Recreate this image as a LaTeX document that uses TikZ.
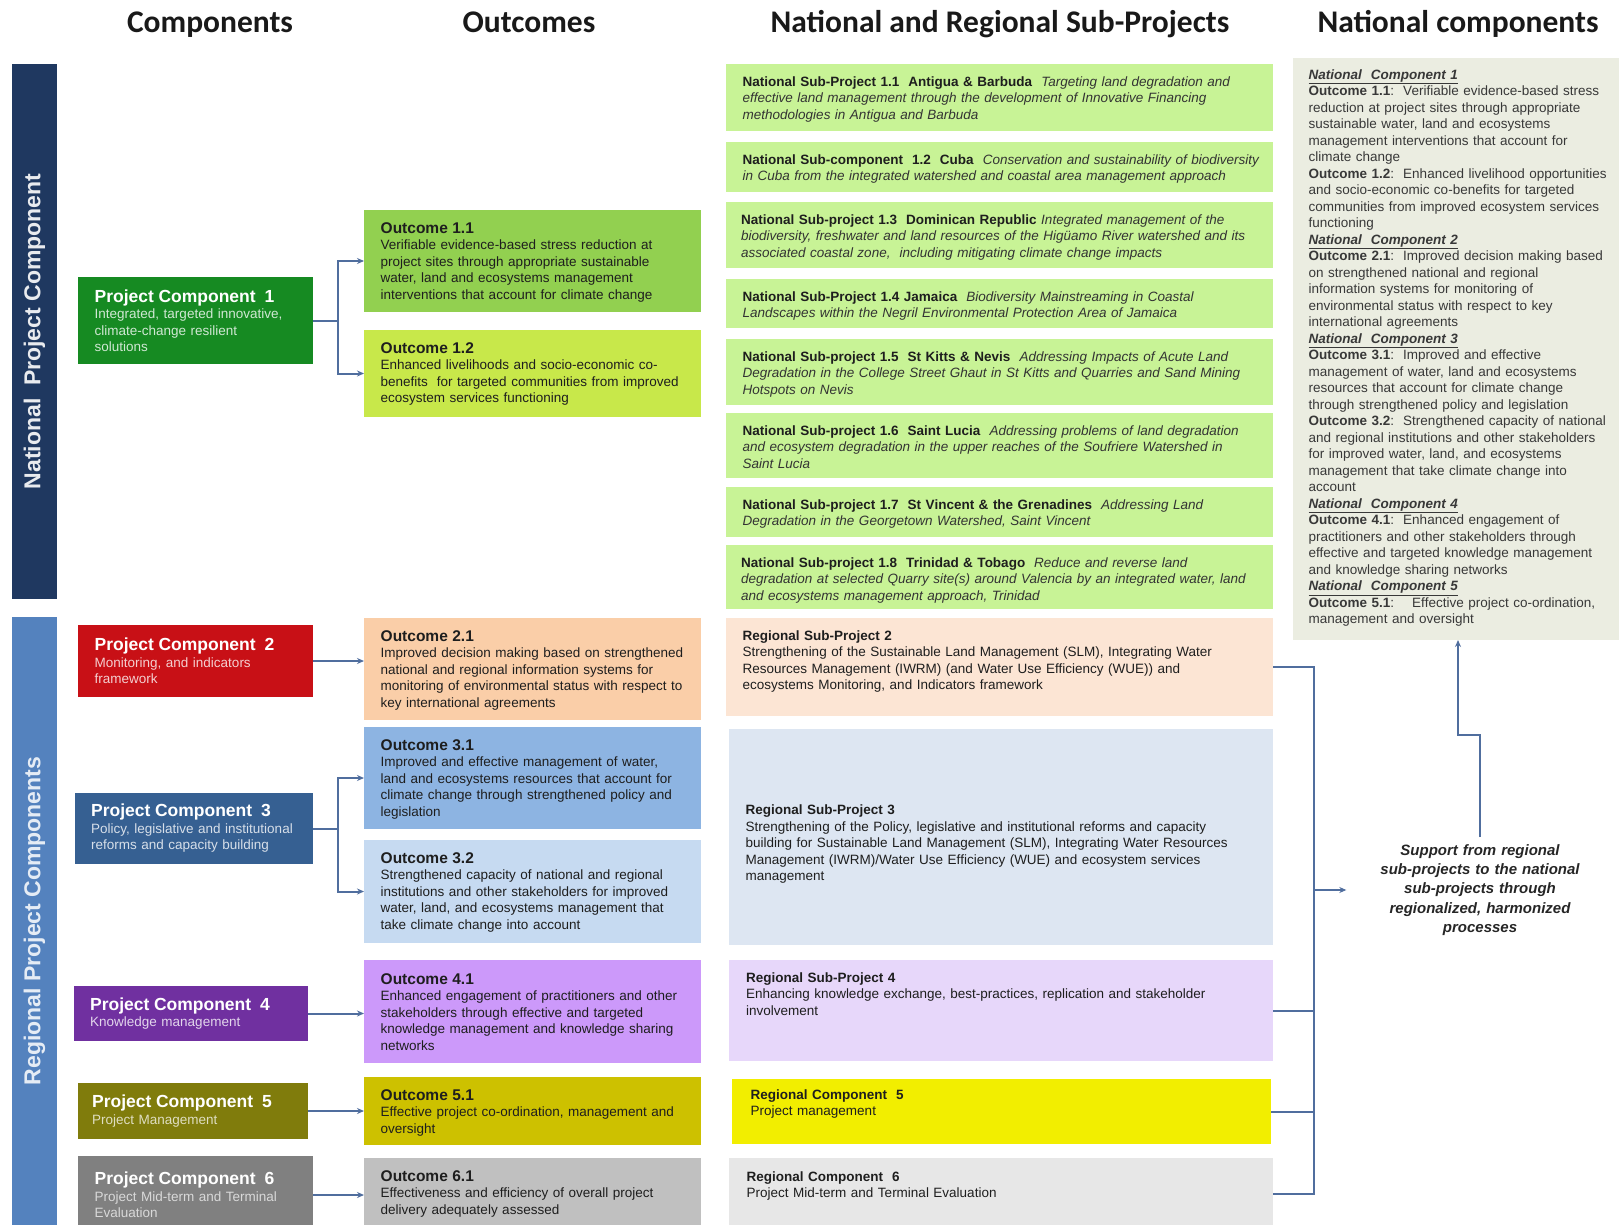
\documentclass[tikz,border=0pt]{standalone}
\usepackage{fontspec}
\setmainfont{Liberation Sans}
\newfontfamily\hdrfont{Carlito}
\usetikzlibrary{fit,arrows.meta}
\definecolor{natbarc}{RGB}{31,56,96}
\definecolor{regbarc}{RGB}{84,130,190}
\definecolor{pc1c}{RGB}{22,138,34}
\definecolor{o11c}{RGB}{146,208,80}
\definecolor{o12c}{RGB}{200,232,74}
\definecolor{nspc}{RGB}{200,243,150}
\definecolor{pc2c}{RGB}{200,16,22}
\definecolor{o21c}{RGB}{250,206,168}
\definecolor{r2c}{RGB}{252,229,212}
\definecolor{pc3c}{RGB}{54,96,146}
\definecolor{o31c}{RGB}{141,180,226}
\definecolor{o32c}{RGB}{198,218,241}
\definecolor{r3c}{RGB}{221,230,242}
\definecolor{pc4c}{RGB}{112,48,160}
\definecolor{o41c}{RGB}{204,153,250}
\definecolor{r4c}{RGB}{231,215,250}
\definecolor{pc5c}{RGB}{128,124,12}
\definecolor{o51c}{RGB}{205,193,0}
\definecolor{r5c}{RGB}{242,238,0}
\definecolor{pc6c}{RGB}{128,128,128}
\definecolor{o61c}{RGB}{192,192,192}
\definecolor{r6c}{RGB}{231,231,231}
\definecolor{ncc}{RGB}{235,237,225}
\definecolor{connc}{RGB}{80,110,158}
\definecolor{txtc}{RGB}{30,30,30}
\newcommand\mybox[6]{\node[boxf, fill=#6, fit={(#2,#3) (#4,#5)}] (#1) {};}
\newcommand\pctitle[1]{{\fontsize{17.5}{16.5}\selectfont\bfseries #1}}
\newcommand\otitle[1]{{\fontsize{15.5}{16.5}\selectfont\bfseries #1}}
\newcommand\spb[1]{\textbf{#1}}
\newcommand\spi[1]{{\itshape\color{black!80}#1}}
\newcommand\ncl[1]{\underline{\textbf{\textit{#1}}}}
\tikzset{
  boxf/.style={inner sep=0pt, outer sep=0pt, draw=none},
  txt/.style={anchor=north west, inner sep=0pt, align=left, text width=#1,
    font=\fontsize{13.5}{16.5}\selectfont, text=txtc},
  txt/.default=310,
  pctxt/.style={anchor=west, inner sep=0pt, align=left, text width=215,
    font=\fontsize{13.5}{16.5}\selectfont, text=white},
  hdr/.style={anchor=base, inner sep=0pt, font=\hdrfont\bfseries\fontsize{31.5}{34}\selectfont, text=black!90},
  barlbl/.style={rotate=90, inner sep=0pt, font=\fontsize{23}{26}\selectfont\bfseries},
  conn/.style={draw=connc, line width=2pt},
  arr/.style={conn, -{Stealth[length=7pt,width=6pt]}},
}
\begin{document}
\begin{tikzpicture}[x=1pt,y=-1pt]
\clip (0,0) rectangle (1619,1225);
\fill[white] (0,0) rectangle (1619,1225);

% headers
\node[hdr] (h1) at (210,33) {Components};
\node[hdr] (h2) at (529,33) {Outcomes};
\node[hdr] (h3) at (1000,33) {National and Regional Sub-Projects};
\node[hdr] (h4) at (1458,33) {National components};

% left bars
\mybox{natbar}{12}{64}{57}{599}{natbarc}
\node[barlbl, text=white!90!natbarc] (natlbl) at (natbar.center) {National\ \ Project Component};
\mybox{regbar}{12}{617}{57}{1225}{regbarc}
\node[barlbl, text=white!85!regbarc] (reglbl) at (regbar.center) {Regional Project Components};

% project components
\mybox{pc1}{78}{277}{313}{364}{pc1c}
\node[pctxt] (pc1t) at ([xshift=16.5pt]pc1.west) {\pctitle{Project Component\ \ 1}\\ {\color{white!80!pc1c}Integrated, targeted innovative,\\ climate-change resilient\\ solutions}};
\mybox{pc2}{78}{625}{313}{697}{pc2c}
\node[pctxt] (pc2t) at ([xshift=16.5pt]pc2.west) {\pctitle{Project Component\ \ 2}\\ {\color{white!80!pc2c}Monitoring, and indicators\\ framework}};
\mybox{pc3}{75}{793}{313}{864}{pc3c}
\node[pctxt] (pc3t) at ([xshift=16pt]pc3.west) {\pctitle{Project Component\ \ 3}\\ {\color{white!80!pc3c}Policy, legislative and institutional\\ reforms and capacity building}};
\mybox{pc4}{74}{986}{308}{1041}{pc4c}
\node[pctxt] (pc4t) at ([xshift=16pt]pc4.west) {\pctitle{Project Component\ \ 4}\\ {\color{white!80!pc4c}Knowledge management}};
\mybox{pc5}{78}{1083}{308}{1139}{pc5c}
\node[pctxt] (pc5t) at ([xshift=14pt]pc5.west) {\pctitle{Project Component\ \ 5}\\ {\color{white!75!pc5c}Project Management}};
\mybox{pc6}{78}{1156}{313}{1234}{pc6c}
\node[pctxt] (pc6t) at ([xshift=16.5pt]pc6.west) {\pctitle{Project Component\ \ 6}\\ {\color{white!70!pc6c}Project Mid-term and Terminal\\ Evaluation}};

% outcomes
\mybox{o11}{364}{210}{701}{312}{o11c}
\node[txt] (o11t) at ([shift={(16.5,12)}]o11.north west) {\otitle{Outcome 1.1}\\ Verifiable evidence-based stress reduction at\\ project sites through appropriate sustainable\\ water, land and ecosystems management\\ interventions that account for climate change};
\mybox{o12}{364}{330}{701}{417}{o12c}
\node[txt] (o12t) at ([shift={(16.5,12)}]o12.north west) {\otitle{Outcome 1.2}\\ Enhanced livelihoods and socio-economic co-\\ benefits\ \ for targeted communities from improved\\ ecosystem services functioning};
\mybox{o21}{364}{618}{701}{720}{o21c}
\node[txt] (o21t) at ([shift={(16.5,12)}]o21.north west) {\otitle{Outcome 2.1}\\ Improved decision making based on strengthened\\ national and regional information systems for\\ monitoring of environmental status with respect to\\ key international agreements};
\mybox{o31}{364}{727}{701}{829}{o31c}
\node[txt] (o31t) at ([shift={(16.5,12)}]o31.north west) {\otitle{Outcome 3.1}\\ Improved and effective management of water,\\ land and ecosystems resources that account for\\ climate change through strengthened policy and\\ legislation};
\mybox{o32}{364}{840}{701}{943}{o32c}
\node[txt] (o32t) at ([shift={(16.5,12)}]o32.north west) {\otitle{Outcome 3.2}\\ Strengthened capacity of national and regional\\ institutions and other stakeholders for improved\\ water, land, and ecosystems management that\\ take climate change into account};
\mybox{o41}{364}{960}{701}{1063}{o41c}
\node[txt] (o41t) at ([shift={(16.5,13)}]o41.north west) {\otitle{Outcome 4.1}\\ Enhanced engagement of practitioners and other\\ stakeholders through effective and targeted\\ knowledge management and knowledge sharing\\ networks};
\mybox{o51}{364}{1077}{701}{1145}{o51c}
\node[txt] (o51t) at ([shift={(16.5,12)}]o51.north west) {\otitle{Outcome 5.1}\\ Effective project co-ordination, management and\\ oversight};
\mybox{o61}{364}{1158}{701}{1235}{o61c}
\node[txt] (o61t) at ([shift={(16.5,12)}]o61.north west) {\otitle{Outcome 6.1}\\ Effectiveness and efficiency of overall project\\ delivery adequately assessed};

% national sub-projects
\mybox{n11}{726}{64}{1273}{131}{nspc}
\node[txt=530] (n11t) at ([shift={(16.5,12.4)}]n11.north west) {\spb{National Sub-Project 1.1\ \ Antigua \& Barbuda}\ \ \spi{Targeting land degradation and}\\ \spi{effective land management through the development of Innovative Financing}\\ \spi{methodologies in Antigua and Barbuda}};
\mybox{n12}{726}{142}{1273}{192}{nspc}
\node[txt=530] (n12t) at ([shift={(16.5,12.4)}]n12.north west) {\spb{National Sub-component\ \ 1.2\ \ Cuba}\ \ \spi{Conservation and sustainability of biodiversity}\\ \spi{in Cuba from the integrated watershed and coastal area management approach}};
\mybox{n13}{726}{202}{1273}{268}{nspc}
\node[txt=530] (n13t) at ([shift={(15,12.4)}]n13.north west) {\spb{National Sub-project 1.3\ \ Dominican Republic}\ \spi{Integrated management of the}\\ \spi{biodiversity, freshwater and land resources of the Higüamo River watershed and its}\\ \spi{associated coastal zone,\ \ including mitigating climate change impacts}};
\mybox{n14}{726}{279}{1273}{328}{nspc}
\node[txt=530] (n14t) at ([shift={(16.5,12.4)}]n14.north west) {\spb{National Sub-Project 1.4 Jamaica}\ \ \spi{Biodiversity Mainstreaming in Coastal}\\ \spi{Landscapes within the Negril Environmental Protection Area of Jamaica}};
\mybox{n15}{726}{339}{1273}{405}{nspc}
\node[txt=530] (n15t) at ([shift={(16.5,12.4)}]n15.north west) {\spb{National Sub-project 1.5\ \ St Kitts \& Nevis}\ \ \spi{Addressing Impacts of Acute Land}\\ \spi{Degradation in the College Street Ghaut in St Kitts and Quarries and Sand Mining}\\ \spi{Hotspots on Nevis}};
\mybox{n16}{726}{413}{1273}{478}{nspc}
\node[txt=530] (n16t) at ([shift={(16.5,12.4)}]n16.north west) {\spb{National Sub-project 1.6\ \ Saint Lucia}\ \ \spi{Addressing problems of land degradation}\\ \spi{and ecosystem degradation in the upper reaches of the Soufriere Watershed in}\\ \spi{Saint Lucia}};
\mybox{n17}{726}{487}{1273}{537}{nspc}
\node[txt=530] (n17t) at ([shift={(16.5,12.4)}]n17.north west) {\spb{National Sub-project 1.7\ \ St Vincent \& the Grenadines}\ \ \spi{Addressing Land}\\ \spi{Degradation in the Georgetown Watershed, Saint Vincent}};
\mybox{n18}{726}{545}{1273}{609}{nspc}
\node[txt=530] (n18t) at ([shift={(15,12.4)}]n18.north west) {\spb{National Sub-project 1.8\ \ Trinidad \& Tobago}\ \ \spi{Reduce and reverse land}\\ \spi{degradation at selected Quarry site(s) around Valencia by an integrated water, land}\\ \spi{and ecosystems management approach, Trinidad}};

% regional sub-projects
\mybox{r2}{726}{618}{1273}{716}{r2c}
\node[txt=530] (r2t) at ([shift={(16.5,12.4)}]r2.north west) {\spb{Regional Sub-Project 2}\\ Strengthening of the Sustainable Land Management (SLM), Integrating Water\\ Resources Management (IWRM) (and Water Use Efficiency (WUE)) and\\ ecosystems Monitoring, and Indicators framework};
\mybox{r3}{729}{729}{1273}{945}{r3c}
\node[txt=530] (r3t) at ([shift={(16.5,76)}]r3.north west) {\spb{Regional Sub-Project 3}\\ Strengthening of the Policy, legislative and institutional reforms and capacity\\ building for Sustainable Land Management (SLM), Integrating Water Resources\\ Management (IWRM)/Water Use Efficiency (WUE) and ecosystem services\\ management};
\mybox{r4}{729}{960}{1273}{1061}{r4c}
\node[txt=530] (r4t) at ([shift={(17,12.4)}]r4.north west) {\spb{Regional Sub-Project 4}\\ Enhancing knowledge exchange, best-practices, replication and stakeholder\\ involvement};
\mybox{r5}{732}{1079}{1271}{1144}{r5c}
\node[txt=500] (r5t) at ([shift={(18.5,10.5)}]r5.north west) {\spb{Regional Component\ \ 5}\\ Project management};
\mybox{r6}{729}{1158}{1273}{1230}{r6c}
\node[txt=500] (r6t) at ([shift={(17.5,13.4)}]r6.north west) {\spb{Regional Component\ \ 6}\\ Project Mid-term and Terminal Evaluation};

% national components
\mybox{nc}{1293}{58}{1625}{640}{ncc}
\node[txt=312, text=black!78] (nct) at ([shift={(15.5,11.4)}]nc.north west) {\ncl{National\ \ Component 1}\\
\textbf{Outcome 1.1}:\ \ Verifiable evidence-based stress\\ reduction at project sites through appropriate\\ sustainable water, land and ecosystems\\ management interventions that account for\\ climate change\\
\textbf{Outcome 1.2}:\ \ Enhanced livelihood opportunities\\ and socio-economic co-benefits for targeted\\ communities from improved ecosystem services\\ functioning\\
\ncl{National\ \ Component 2}\\
\textbf{Outcome 2.1}:\ \ Improved decision making based\\ on strengthened national and regional\\ information systems for monitoring of\\ environmental status with respect to key\\ international agreements\\
\ncl{National\ \ Component 3}\\
\textbf{Outcome 3.1}:\ \ Improved and effective\\ management of water, land and ecosystems\\ resources that account for climate change\\ through strengthened policy and legislation\\
\textbf{Outcome 3.2}:\ \ Strengthened capacity of national\\ and regional institutions and other stakeholders\\ for improved water, land, and ecosystems\\ management that take climate change into\\ account\\
\ncl{National\ \ Component 4}\\
\textbf{Outcome 4.1}:\ \ Enhanced engagement of\\ practitioners and other stakeholders through\\ effective and targeted knowledge management\\ and knowledge sharing networks\\
\ncl{National\ \ Component 5}\\
\textbf{Outcome 5.1}:\ \ \ \ Effective project co-ordination,\\ management and oversight};

% support text
\node[inner xsep=0pt, inner ysep=7pt, align=center, text width=235, text=black!85,
  font=\fontsize{15}{19.4}\selectfont\bfseries\itshape] (sup) at (1480,890)
  {Support from regional\\ sub-projects to the national\\ sub-projects through\\ regionalized, harmonized\\ processes};

% connectors: components -> outcomes
\draw[conn] (pc1.east) -- ++(25,0) coordinate (s1);
\draw[arr] (s1) |- (o11.west);
\draw[arr] (s1) |- (o12.west);
\draw[arr] (pc2.east) -- (pc2.east -| o21.west);
\draw[conn] (pc3.east) -- ++(25,0) coordinate (s3);
\draw[arr] (s3) |- (o31.west);
\draw[arr] (s3) |- (o32.west);
\draw[arr] (pc4.east) -- (pc4.east -| o41.west);
\draw[arr] (pc5.east) -- (pc5.east -| o51.west);
\draw[arr] (pc6.east) -- (pc6.east -| o61.west);

% regional bracket
\coordinate (bx) at (1314,0);
\draw[conn] (r2.east) -- (r2.east -| bx) -- (r6.east -| bx) -- (r6.east);
\draw[conn] (r4.east) -- (r4.east -| bx);
\draw[conn] (r5.east) -- (r5.east -| bx);
\coordinate (ba) at (1314,890);
\draw[arr, shorten >=16pt] (ba) -- (sup.west);

% up to national components
\coordinate (k1) at (1480,735);
\coordinate (k2) at (1458,735);
\draw[arr] (sup.north) -- (k1) -- (k2) -- (k2 |- nc.south);
\end{tikzpicture}
\end{document}
